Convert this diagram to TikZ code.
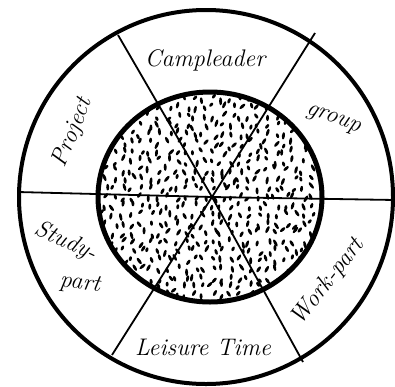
\documentclass[tikz,border=0pt]{standalone}
\begin{document}
\begin{tikzpicture}[x=1pt,y=-1pt,
  lbl/.style={font=\fontsize{24}{28}\selectfont\itshape, inner sep=0pt},
  sector/.style={line width=1.8pt},
  rim/.style={line width=4pt},
  core/.style={line width=5pt}]
\useasboundingbox (0,0) rectangle (395,386);
\fill[white] (0,0) rectangle (395,386);
% stippled core
\begin{scope}
\clip (210,197) ellipse [x radius=112pt, y radius=105pt];
\pgfmathsetseed{7}
\foreach \gx in {0,...,25}{
  \foreach \gy in {0,...,24}{
    \pgfmathsetmacro\px{96+9*\gx+7*rnd-3.5}
    \pgfmathsetmacro\py{89+9*\gy+7*rnd-3.5}
    \pgfmathsetmacro\pa{40+90*rnd}
    \pgfmathsetmacro\pl{2.4+1.6*rnd}
    \fill[rotate around={\pa:(\px,\py)}] (\px,\py) ellipse [x radius=\pl pt, y radius=1.5pt];
  }
}
\end{scope}
% rims
\draw[rim] (206,197) circle [radius=187pt];
\draw[core] (210,197) ellipse [x radius=112pt, y radius=105pt];
% sector lines
\coordinate (C) at (212,197);
\coordinate (L) at (18,192);
\coordinate (R) at (395,200);
\coordinate (UL) at (118,35);
\coordinate (LR) at (303,362);
\coordinate (UR) at (315,33);
\coordinate (LL) at (112,355);
\draw[sector] (L) -- (C) -- (R);
\draw[sector] (UL) -- (C) -- (LR);
\draw[sector] (UR) -- (C) -- (LL);
% labels
\node[lbl] (camp) at (205,60) {Campleader};
\node[lbl, rotate=-20] (group) at (333,120) {group};
\node[lbl, rotate=68] (proj) at (73,133) {Project};
\node[lbl, rotate=-25] (study) at (66,242) {Study-};
\node[lbl, rotate=-8] (part) at (80,284) {part};
\node[lbl] (leis) at (203,347) {Leisure Time};
\node[lbl, rotate=52] (work) at (328,282) {Work-part};
\end{tikzpicture}
\end{document}
